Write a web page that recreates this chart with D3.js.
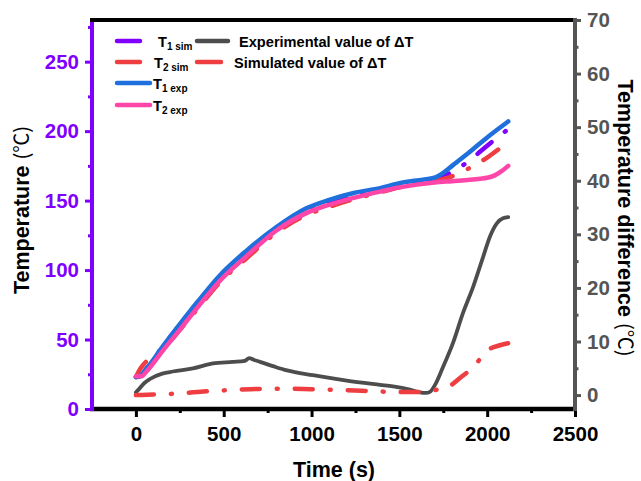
<!DOCTYPE html>
<html><head><meta charset="utf-8">
<script src="https://cdn.jsdelivr.net/npm/d3@7"></script>
<style>body{margin:0;background:#fff}svg{display:block}text{font-family:"Liberation Sans",Arial,sans-serif;font-weight:bold}</style>
</head><body>
<svg id="c" width="641" height="481"></svg>
<script>
// ---- data ----
const xTicks = [0, 500, 1000, 1500, 2000, 2500];
const yLeftTicks = [0, 50, 100, 150, 200, 250];
const yRightTicks = [0, 10, 20, 30, 40, 50, 60, 70];

const t1expTime = [0, 20, 60, 150, 250, 350, 480, 630, 800, 970, 1100, 1240, 1390, 1500, 1600, 1700, 1750, 1800, 1900, 2000, 2120];
const t1expVal  = [23, 23.5, 29, 44.5, 61, 77, 96.5, 114, 131, 144.5, 150.5, 155.5, 159, 162.5, 164.5, 166.5, 170, 175, 185, 195.5, 207];

const t1simTime = [0, 20, 60, 150, 250, 350, 480, 630, 800, 970, 1100, 1240, 1390, 1500, 1600, 1700, 1800, 1900, 2000, 2120];
const t1simVal  = [23, 23.5, 29, 44.5, 60.5, 76, 95.5, 113, 130, 143.5, 149.5, 154.5, 158.5, 161.5, 163.5, 166, 170.5, 179, 189.5, 201.5];

const t2simTime = [0, 25, 50, 150, 250, 350, 480, 630, 800, 970, 1100, 1240, 1390, 1500, 1600, 1700, 1800, 1900, 2000, 2120];
const t2simVal  = [23, 29, 33, 42.5, 57, 72, 91.5, 108.5, 127, 139.5, 145.5, 151, 156, 159.5, 162, 164, 167.5, 173.5, 181, 192.5];

const t2expTime = [0, 30, 60, 150, 250, 350, 480, 630, 800, 970, 1100, 1240, 1390, 1500, 1600, 1700, 1800, 1900, 1960, 2000, 2040, 2080, 2120];
const t2expVal  = [23.5, 23.5, 27, 41.5, 57, 73, 92.5, 110, 128.5, 141, 147, 152, 156.5, 159.5, 161.5, 163, 164, 165, 165.8, 166.5, 168, 171, 175];

const dTexpTime = [0, 20, 50, 80, 150, 210, 325, 438, 550, 620, 645, 670, 706, 780, 860, 1008, 1200, 1390, 1464, 1560, 1617, 1650, 1674, 1703, 1748, 1805, 1862, 1920, 1977, 2016, 2056, 2090, 2120];
const dTexpVal  = [0.5, 1.2, 2.3, 3.0, 4.0, 4.4, 5.0, 5.9, 6.2, 6.4, 6.9, 6.6, 6.2, 5.4, 4.6, 3.7, 2.7, 1.9, 1.6, 1.0, 0.5, 0.4, 0.6, 1.9, 5.2, 9.7, 15.3, 20.2, 25.8, 29.6, 32.1, 33.0, 33.2];

const dTsimTime = [0, 100, 250, 400, 520, 650, 800, 1000, 1200, 1400, 1550, 1650, 1700, 1777, 1845, 1920, 2004, 2073, 2124];
const dTsimVal  = [0, 0.1, 0.3, 0.7, 0.9, 1.1, 1.2, 1.1, 0.9, 0.65, 0.55, 0.6, 0.9, 1.5, 3.2, 5.2, 8.4, 9.3, 9.7];

const colors = {purple:"#7F00FF", red:"#EF3E42", blue:"#1F6FDC", pink:"#FF45A8", gray:"#4D4D4D", axisGray:"#555555"};

// ---- scales ----
const L = 92, R = 575, T = 20, B = 409;
const x = d3.scaleLinear().domain([-250, 2500]).range([L, R]);
const yL = d3.scaleLinear().domain([0, 280]).range([B, T]);
const yR = d3.scaleLinear().domain([-2.6, 70]).range([B, T]);

const svg = d3.select("#c");
const zip = (a, b) => a.map((t, i) => [t, b[i]]);

const lineL = d3.line().x(d => x(d[0])).y(d => yL(d[1])).curve(d3.curveMonotoneX);
const lineR = d3.line().x(d => x(d[0])).y(d => yR(d[1])).curve(d3.curveMonotoneX);
const dashDot = "18,17,1,17";

const g = svg.append("g");
function path(data, gen, color, w, dash) {
  const p = g.append("path").attr("d", gen(data)).attr("fill", "none")
    .attr("stroke", color).attr("stroke-width", w)
    .attr("stroke-linecap", "round").attr("stroke-linejoin", "round");
  if (dash) p.attr("stroke-dasharray", dash);
}
path(zip(t1simTime, t1simVal), lineL, colors.purple, 4.5, dashDot);
path(zip(t2simTime, t2simVal), lineL, colors.red, 4.5, dashDot);
path(zip(t1expTime, t1expVal), lineL, colors.blue, 4.5);
path(zip(t2expTime, t2expVal), lineL, colors.pink, 4.5);
path(zip(dTexpTime, dTexpVal), lineR, colors.gray, 3.8);
path(zip(dTsimTime, dTsimVal), lineR, colors.red, 4.5, dashDot);

// ---- axes ----
function styleAxis(sel, color, fs) {
  sel.select(".domain").remove();
  sel.selectAll("line").attr("stroke", color).attr("stroke-width", 3);
  sel.selectAll("text").attr("fill", color).style("font-size", fs + "px").style("font-weight", "bold");
}
const xa = svg.append("g").attr("transform", `translate(0,${B})`)
  .call(d3.axisBottom(x).tickValues(xTicks).tickSize(8).tickPadding(9).tickFormat(d3.format("d")));
styleAxis(xa, "#000", 20.5);
const xm = svg.append("g").attr("transform", `translate(0,${B})`)
  .call(d3.axisBottom(x).tickValues([250, 750, 1250, 1750, 2250]).tickSize(4).tickFormat(""));
styleAxis(xm, "#000", 10);
const ya = svg.append("g").attr("transform", `translate(${L},0)`)
  .call(d3.axisLeft(yL).tickValues(yLeftTicks).tickSize(7).tickPadding(6));
styleAxis(ya, colors.purple, 20.5);
const ym = svg.append("g").attr("transform", `translate(${L},0)`)
  .call(d3.axisLeft(yL).tickValues([25, 75, 125, 175, 225, 275]).tickSize(4).tickFormat(""));
styleAxis(ym, colors.purple, 10);
const yra = svg.append("g").attr("transform", `translate(${R},0)`)
  .call(d3.axisRight(yR).tickValues(yRightTicks).tickSize(6).tickPadding(6));
styleAxis(yra, colors.axisGray, 20.5);
const yrm = svg.append("g").attr("transform", `translate(${R},0)`)
  .call(d3.axisRight(yR).tickValues([5, 15, 25, 35, 45, 55, 65]).tickSize(3.5).tickFormat(""));
styleAxis(yrm, colors.axisGray, 10);

// frame lines
svg.append("line").attr("x1", L - 2).attr("x2", R).attr("y1", T).attr("y2", T).attr("stroke", "#000").attr("stroke-width", 4);
svg.append("line").attr("x1", L - 2).attr("x2", R).attr("y1", B).attr("y2", B).attr("stroke", "#000").attr("stroke-width", 4.5);
svg.append("line").attr("x1", L).attr("x2", L).attr("y1", T + 2).attr("y2", B + 2).attr("stroke", colors.purple).attr("stroke-width", 4);
svg.append("line").attr("x1", R).attr("x2", R).attr("y1", T - 2).attr("y2", B + 2).attr("stroke", colors.axisGray).attr("stroke-width", 4);

// titles
function title(sel, main) {
  sel.append("tspan").text(main + " ");
  sel.append("tspan").style("font-weight", "normal").style("font-size", "20px")
    .style("font-family", "'Noto Sans CJK SC','Liberation Sans',sans-serif").text("(℃)");
}
title(svg.append("text").attr("transform", "translate(29,210) rotate(-90)").attr("text-anchor", "middle")
  .style("font-size", "21.5px").attr("fill", "#000"), "Temperature");
title(svg.append("text").attr("transform", "translate(618,218) rotate(90)").attr("text-anchor", "middle")
  .style("font-size", "21.5px").attr("fill", "#000"), "Temperature difference");
svg.append("text").attr("x", 334).attr("y", 477).attr("text-anchor", "middle")
  .style("font-size", "21.5px").attr("fill", "#000").text("Time (s)");

// legend
const legendItems = [
  {c: colors.purple, x1: 117, x2: 140, y: 41, tx: 158, main: "T", sub: "1 sim"},
  {c: colors.red, x1: 117, x2: 140, y: 62, tx: 154, main: "T", sub: "2 sim"},
  {c: colors.blue, x1: 117, x2: 150, y: 83, tx: 153, main: "T", sub: "1 exp"},
  {c: colors.pink, x1: 117, x2: 150, y: 105, tx: 153, main: "T", sub: "2 exp"},
  {c: colors.gray, x1: 197, x2: 228, y: 41, tx: 239, main: "Experimental value of ΔT", sub: ""},
  {c: colors.red, x1: 197, x2: 221, y: 62, tx: 234, main: "Simulated value of ΔT", sub: ""}
];
const lg = svg.append("g");
legendItems.forEach(d => {
  lg.append("line").attr("x1", d.x1).attr("x2", d.x2).attr("y1", d.y).attr("y2", d.y)
    .attr("stroke", d.c).attr("stroke-width", 4.5).attr("stroke-linecap", "round");
  const t = lg.append("text").attr("x", d.tx).attr("y", d.y + 6).style("font-size", "14.6px").attr("fill", "#000");
  t.append("tspan").text(d.main);
  if (d.sub) t.append("tspan").attr("dy", 3).style("font-size", "10px").text(d.sub);
});
</script>
</body></html>
